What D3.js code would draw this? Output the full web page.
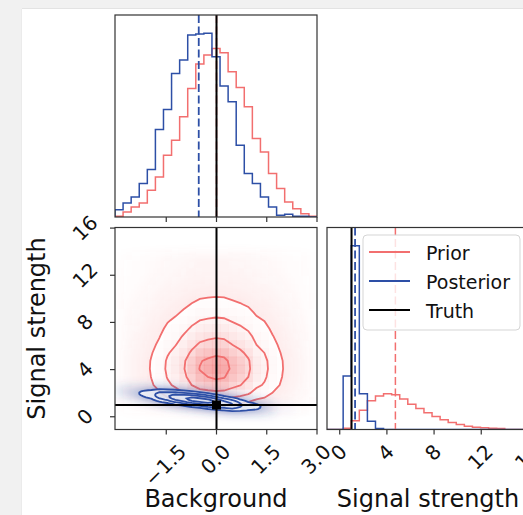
<!DOCTYPE html>
<html><head><meta charset="utf-8">
<script src="https://cdn.jsdelivr.net/npm/d3@7"></script>
<style>body{margin:0;background:#fff;} svg{display:block;font-family:"DejaVu Sans",sans-serif;}</style>
</head><body><svg id="c" width="523" height="515"></svg>
<script>
// ---------------- data ----------------
const bgDomain = [-3.03, 3.0];
const sigDomain = [-1.08, 16.05];
const nBins = 25;
const bgTicks = [-1.5, 0.0, 1.5, 3.0];
const sigTicks = [0, 4, 8, 12, 16];
const bgTickLabels = ["\u22121.5", "0.0", "1.5", "3.0"];
const sigTickLabels = ["0", "4", "8", "12", "16"];
const axisLabels = ["Background", "Signal strength"];
const legendLabels = ["Prior", "Posterior", "Truth"];

// 1D histograms (25 bins each)
const priorBg = [2,15,30,42,80,120,185,230,300,385,458,485,505,492,435,388,330,235,195,130,85,45,25,10,2];
const postBg  = [22,42,60,100,142,262,322,430,470,545,548,550,480,392,345,215,130,100,60,30,5,8,2,2,0];
const priorSig = [0,0,4,26,58,86,100,107,104,91,76,63,50,39,29,21,15,10,7,5,4,3,0,0,0];
const postSig  = [0,0,160,550,107,25,3,0,0,0,0,0,0,0,0,0,0,0,0,0,0,0,0,0,0];

// posterior ridge: signal strength centre for each background bin, and its spread
const postRidge = [2.2,2.12,2.04,1.97,1.9,1.82,1.74,1.66,1.58,1.5,1.42,1.33,1.24,1.15,1.06,0.98,0.91,0.85,0.8,0.76,0.73,0.7,0.68,0.66,0.64];
const postRidgeSd = 0.34;

// truths and medians
const truthBg = 0.0, truthSig = 1.0;
const priorMedBg = 0.0, postMedBg = -0.53;
const priorMedSig = 4.72, postMedSig = 1.3;

// contour mass levels (corner default: 0.5,1,1.5,2 sigma)
const sigmaLevels = [0.5, 1, 1.5, 2];

// ---------------- drawing ----------------
const W = 523, H = 515;
const red = "#f26f6f", blue = "#2d4fa6";
const svg = d3.select("#c");
svg.append("rect").attr("width", W).attr("height", H).attr("fill", "#f1f1f1");
svg.append("rect").attr("x", 22).attr("y", 9).attr("width", W).attr("height", H).attr("fill", "#fff");
svg.append("line").attr("x1", 22).attr("x2", W).attr("y1", 8.5).attr("y2", 8.5).attr("stroke", "#e3e3e3");
svg.append("line").attr("x1", 21.5).attr("x2", 21.5).attr("y1", 9).attr("y2", H).attr("stroke", "#ebebeb");

const panels = {
  top:   {x: 115, y: 15,    w: 202, h: 202},
  main:  {x: 115, y: 227.5, w: 202, h: 202},
  right: {x: 327, y: 227.5, w: 202, h: 202}
};
const xBg = d3.scaleLinear(bgDomain, [panels.main.x, panels.main.x + panels.main.w]);
const ySig = d3.scaleLinear(sigDomain, [panels.main.y + panels.main.h, panels.main.y]);
const xSig = d3.scaleLinear(sigDomain, [panels.right.x, panels.right.x + panels.right.w]);
const histMax = 1.1 * d3.max([...priorBg, ...postBg]);
const histMaxR = 1.1 * d3.max([...priorSig, ...postSig]);
const yTop = d3.scaleLinear([0, histMax], [panels.top.y + panels.top.h, panels.top.y]);
const yRight = d3.scaleLinear([0, histMaxR], [panels.right.y + panels.right.h, panels.right.y]);

const bgEdges = d3.range(nBins + 1).map(k => bgDomain[0] + k * (bgDomain[1] - bgDomain[0]) / nBins);
const sigEdges = d3.range(nBins + 1).map(k => sigDomain[0] + k * (sigDomain[1] - sigDomain[0]) / nBins);

const defs = svg.append("defs");
Object.entries(panels).forEach(([k, p]) => {
  defs.append("clipPath").attr("id", "clip-" + k).append("rect")
    .attr("x", p.x).attr("y", p.y).attr("width", p.w).attr("height", p.h);
});
defs.append("filter").attr("id", "soft").attr("x", "-20%").attr("y", "-20%").attr("width", "140%").attr("height", "140%")
  .append("feGaussianBlur").attr("stdDeviation", 4);

function stepPoints(edges, vals) {
  const pts = [[edges[0], 0]];
  vals.forEach((v, i) => { pts.push([edges[i], v]); pts.push([edges[i + 1], v]); });
  pts.push([edges[edges.length - 1], 0]);
  return pts;
}

// ---- top panel (Background histogram)
const gTop = svg.append("g").attr("clip-path", "url(#clip-top)");
const lineTop = d3.line().x(d => xBg(d[0])).y(d => yTop(d[1]));
gTop.append("path").attr("d", lineTop(stepPoints(bgEdges, priorBg))).attr("fill", "none").attr("stroke", red).attr("stroke-width", 1.5);
gTop.append("path").attr("d", lineTop(stepPoints(bgEdges, postBg))).attr("fill", "none").attr("stroke", blue).attr("stroke-width", 1.5);
gTop.append("line").attr("x1", xBg(priorMedBg)).attr("x2", xBg(priorMedBg)).attr("y1", panels.top.y).attr("y2", panels.top.y + panels.top.h)
  .attr("stroke", red).attr("stroke-width", 1.5).attr("stroke-dasharray", "8,3.5");
gTop.append("line").attr("x1", xBg(postMedBg)).attr("x2", xBg(postMedBg)).attr("y1", panels.top.y).attr("y2", panels.top.y + panels.top.h)
  .attr("stroke", blue).attr("stroke-width", 1.8).attr("stroke-dasharray", "8,3.5");
gTop.append("line").attr("x1", xBg(truthBg)).attr("x2", xBg(truthBg)).attr("y1", panels.top.y).attr("y2", panels.top.y + panels.top.h)
  .attr("stroke", "#000").attr("stroke-width", 2);

// ---- main panel (2D)
const gMain = svg.append("g").attr("clip-path", "url(#clip-main)");

function levelsFor(vals) {
  const s = vals.slice().sort((a, b) => b - a);
  const tot = d3.sum(s);
  let cum = 0;
  const cs = s.map(v => (cum += v) / tot);
  const fr = sigmaLevels.map(sg => 1 - Math.exp(-0.5 * sg * sg));
  return fr.map(f => { let k = cs.findIndex(c => c >= f); return s[Math.max(0, k - 1)]; }).sort((a, b) => a - b);
}
function gridPath(x0, dx, y0, dy) {
  return d3.geoPath(d3.geoTransform({
    point: function (x, y) { this.stream.point(xBg(x0 + x * dx), ySig(y0 + y * dy)); }
  }));
}

// prior grid (product of prior marginals, independent prior)
const bdx = (bgDomain[1] - bgDomain[0]) / nBins;
const sdy = (sigDomain[1] - sigDomain[0]) / nBins;
const priorGrid = [];
for (let j = 0; j < nBins; j++) for (let i = 0; i < nBins; i++) priorGrid.push(priorBg[i] * priorSig[j]);
const pMax = d3.max(priorGrid);

// prior sample cloud (soft haze)
const hazeP = gMain.append("g").attr("filter", "url(#soft)");
for (let j = 0; j < nBins; j++) for (let i = 0; i < nBins; i++) {
  const r = priorGrid[j * nBins + i] / pMax;
  if (r <= 0) continue;
  hazeP.append("rect").attr("x", xBg(bgEdges[i])).attr("y", ySig(sigEdges[j + 1]))
    .attr("width", xBg(bgEdges[i + 1]) - xBg(bgEdges[i]) + 0.3).attr("height", ySig(sigEdges[j]) - ySig(sigEdges[j + 1]) + 0.3)
    .attr("fill", red).attr("opacity", Math.min(0.14, 0.3 * Math.pow(r, 0.45)));
}
const pLevels = levelsFor(priorGrid);
const pPath = gridPath(bgDomain[0], bdx, sigDomain[0], sdy);
const pCont = d3.contours().size([nBins, nBins]).thresholds(pLevels)(priorGrid);
// white base fill
gMain.append("path").attr("d", pPath(pCont[0])).attr("fill", "#fff");
// density cells
for (let j = 0; j < nBins; j++) for (let i = 0; i < nBins; i++) {
  const r = priorGrid[j * nBins + i] / pMax;
  if (r < pLevels[0] / pMax) continue;
  gMain.append("rect").attr("x", xBg(bgEdges[i])).attr("y", ySig(sigEdges[j + 1]))
    .attr("width", xBg(bgEdges[i + 1]) - xBg(bgEdges[i]) + 0.3).attr("height", ySig(sigEdges[j]) - ySig(sigEdges[j + 1]) + 0.3)
    .attr("fill", red).attr("opacity", 0.62 * r * r);
}
gMain.append("g").selectAll("path").data(pCont).join("path").attr("d", pPath)
  .attr("fill", "none").attr("stroke", red).attr("stroke-width", 1.8);

// posterior grid (fine in signal strength)
const qy0 = -1.0, qdy = 0.1, qny = 46;
const postGrid = [];
for (let j = 0; j < qny; j++) {
  const yc = qy0 + (j + 0.5) * qdy;
  for (let i = 0; i < nBins; i++) {
    const z = (yc - postRidge[i]) / postRidgeSd;
    postGrid.push(postBg[i] * Math.exp(-0.5 * z * z));
  }
}
const qMax = d3.max(postGrid);
const hazeQ = gMain.append("g").attr("filter", "url(#soft)");
for (let j = 0; j < qny; j++) for (let i = 0; i < nBins; i++) {
  const r = postGrid[j * nBins + i] / qMax;
  if (r < 0.002) continue;
  hazeQ.append("rect").attr("x", xBg(bgEdges[i])).attr("y", ySig(qy0 + (j + 1) * qdy))
    .attr("width", xBg(bgEdges[i + 1]) - xBg(bgEdges[i]) + 0.3).attr("height", ySig(qy0 + j * qdy) - ySig(qy0 + (j + 1) * qdy) + 0.3)
    .attr("fill", blue).attr("opacity", Math.min(0.6, 1 - Math.exp(-3 * r)));
}
const qLevels = levelsFor(postGrid);
const qPath = gridPath(bgDomain[0], bdx, qy0, qdy);
const qCont = d3.contours().size([nBins, qny]).thresholds(qLevels)(postGrid);
gMain.append("path").attr("d", qPath(qCont[0])).attr("fill", "#fff").attr("opacity", 0.75);
gMain.append("g").selectAll("path").data(qCont).join("path").attr("d", qPath)
  .attr("fill", "none").attr("stroke", blue).attr("stroke-width", 1.8);

// truths
gMain.append("line").attr("x1", xBg(truthBg)).attr("x2", xBg(truthBg)).attr("y1", panels.main.y).attr("y2", panels.main.y + panels.main.h).attr("stroke", "#000").attr("stroke-width", 2);
gMain.append("line").attr("x1", panels.main.x).attr("x2", panels.main.x + panels.main.w).attr("y1", ySig(truthSig)).attr("y2", ySig(truthSig)).attr("stroke", "#000").attr("stroke-width", 2);
gMain.append("rect").attr("x", xBg(truthBg) - 4.5).attr("y", ySig(truthSig) - 4.5).attr("width", 9).attr("height", 9).attr("fill", "#000");

// ---- right panel (Signal strength histogram)
const gRight = svg.append("g").attr("clip-path", "url(#clip-right)");
const lineR = d3.line().x(d => xSig(d[0])).y(d => yRight(d[1]));
gRight.append("path").attr("d", lineR(stepPoints(sigEdges, priorSig))).attr("fill", "none").attr("stroke", red).attr("stroke-width", 1.5);
gRight.append("path").attr("d", lineR(stepPoints(sigEdges, postSig))).attr("fill", "none").attr("stroke", blue).attr("stroke-width", 1.5);
gRight.append("line").attr("x1", xSig(priorMedSig)).attr("x2", xSig(priorMedSig)).attr("y1", panels.right.y).attr("y2", panels.right.y + panels.right.h)
  .attr("stroke", red).attr("stroke-width", 1.5).attr("stroke-dasharray", "8,3.5");
gRight.append("line").attr("x1", xSig(truthSig)).attr("x2", xSig(truthSig)).attr("y1", panels.right.y).attr("y2", panels.right.y + panels.right.h)
  .attr("stroke", "#000").attr("stroke-width", 2);
gRight.append("line").attr("x1", xSig(postMedSig)).attr("x2", xSig(postMedSig)).attr("y1", panels.right.y).attr("y2", panels.right.y + panels.right.h)
  .attr("stroke", blue).attr("stroke-width", 1.8).attr("stroke-dasharray", "8,3.5");

// ---- frames & axes
Object.values(panels).forEach(p => {
  svg.append("rect").attr("x", p.x).attr("y", p.y).attr("width", p.w).attr("height", p.h)
    .attr("fill", "none").attr("stroke", "#333").attr("stroke-width", 1.2);
});
const tickFs = 20;
function xAxis(scale, y, ticks, labels, withLabels) {
  const g = svg.append("g");
  ticks.forEach((t, k) => {
    const x = scale(t);
    g.append("line").attr("x1", x).attr("x2", x).attr("y1", y).attr("y2", y + 5).attr("stroke", "#333").attr("stroke-width", 1.2);
    if (!withLabels) return;
    const tx = g.append("text").text(labels[k]).attr("font-size", tickFs).attr("fill", "#111")
      .attr("text-anchor", "middle").attr("dominant-baseline", "central");
    const w = tx.node().getComputedTextLength();
    const bh = (w + 0.8 * tickFs) * Math.SQRT1_2;
    tx.attr("transform", `translate(${x - 1},${y + 13 + bh / 2}) rotate(-45)`);
  });
}
function yAxis(scale, x, ticks, labels) {
  const g = svg.append("g");
  ticks.forEach((t, k) => {
    const y = scale(t);
    g.append("line").attr("x1", x - 5).attr("x2", x).attr("y1", y).attr("y2", y).attr("stroke", "#333").attr("stroke-width", 1.2);
    g.append("text").text(labels[k]).attr("font-size", tickFs).attr("fill", "#111")
      .attr("text-anchor", "middle").attr("dominant-baseline", "central")
      .attr("transform", `translate(${x - 30},${y}) rotate(-45)`);
  });
}
xAxis(xBg, panels.top.y + panels.top.h, bgTicks, bgTickLabels, false);
xAxis(xBg, panels.main.y + panels.main.h, bgTicks, bgTickLabels, true);
xAxis(xSig, panels.right.y + panels.right.h, sigTicks, sigTickLabels, true);
yAxis(ySig, panels.main.x, sigTicks, sigTickLabels);

svg.append("text").text(axisLabels[0]).attr("x", panels.main.x + panels.main.w / 2).attr("y", 507)
  .attr("text-anchor", "middle").attr("font-size", 24).attr("fill", "#111");
svg.append("text").text(axisLabels[1]).attr("x", panels.right.x + panels.right.w / 2).attr("y", 507)
  .attr("text-anchor", "middle").attr("font-size", 24).attr("fill", "#111");
svg.append("text").text(axisLabels[1]).attr("transform", `translate(44.5,${panels.main.y + panels.main.h / 2}) rotate(-90)`)
  .attr("text-anchor", "middle").attr("font-size", 24).attr("fill", "#111");

// ---- legend
const lg = svg.append("g");
lg.append("rect").attr("x", 363).attr("y", 235).attr("width", 157).attr("height", 95).attr("rx", 4)
  .attr("fill", "#fff").attr("fill-opacity", 0.8).attr("stroke", "#d5d5d5");
const legColors = [red, blue, "#000"];
legendLabels.forEach((lab, k) => {
  const by = 260 + k * 29;
  lg.append("line").attr("x1", 369).attr("x2", 410).attr("y1", by - 8).attr("y2", by - 8).attr("stroke", legColors[k]).attr("stroke-width", 1.8);
  lg.append("text").text(lab).attr("x", 426).attr("y", by).attr("font-size", 19).attr("fill", "#111");
});
</script></body></html>
